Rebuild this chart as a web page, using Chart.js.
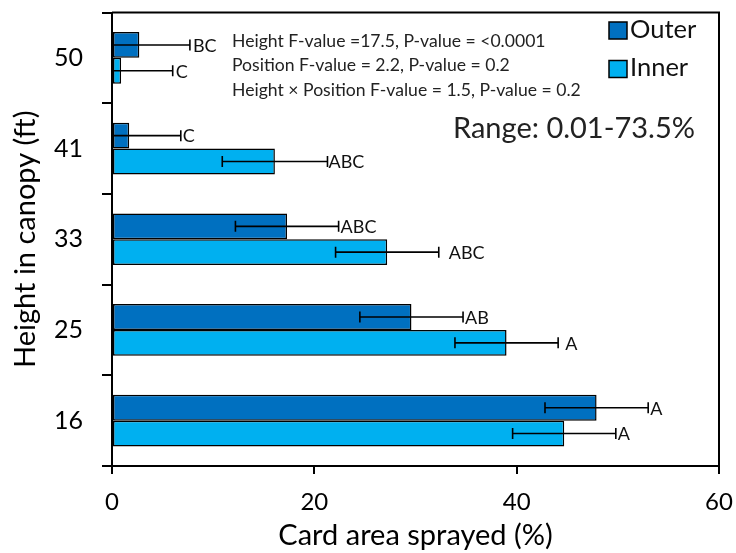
<!DOCTYPE html>
<html><head><meta charset="utf-8">
<script src="https://cdn.jsdelivr.net/npm/chart.js@4/dist/chart.umd.min.js"></script>
<style>html,body{margin:0;padding:0;background:#fff}#wrap{width:736px;height:553px}</style>
</head><body><div id="wrap"><canvas id="c" width="736" height="553"></canvas></div>
<script>
// ---- data ----
const heights = ['50', '41', '33', '25', '16'];
const seriesNames = ['Outer', 'Inner'];
const outerMean = [2.7, 1.7, 17.3, 29.6, 47.9];
const outerErr  = [5.0, 5.1, 5.1, 5.1, 5.1];
const innerMean = [0.9, 16.1, 27.2, 39.0, 44.7];
const innerErr  = [5.1, 5.2, 5.1, 5.1, 5.1];
const outerLetters = ['BC', 'C', 'ABC', 'AB', 'A'];
const innerLetters = ['C', 'ABC', 'ABC', 'A', 'A'];
const xTickValues = [0, 20, 40, 60];
const statsLines = [
  'Height F-value =17.5, P-value = <0.0001',
  'Position F-value = 2.2, P-value = 0.2',
  'Height \u00d7 Position F-value = 1.5, P-value = 0.2'
];
const rangeText = 'Range: 0.01-73.5%';
const xTitle = 'Card area sprayed (%)';
const yTitle = 'Height in canopy (ft)';

// ---- styles ----
const FONT = 'Lato, "Open Sans", sans-serif';
const colors = ['#0070C0', '#00B0F0'];
const errs = [outerErr, innerErr];
const letters = [outerLetters, innerLetters];
const letterGapOuter = [3, 2, 2, 2, 2];
const letterGapInner = [3, 1, 10, 7, 2];
const letterGaps = [letterGapOuter, letterGapInner];

const extras = {
  id: 'extras',
  afterDatasetsDraw(chart) {
    const ctx = chart.ctx;
    const xs = chart.scales.x;
    const ca = chart.chartArea;
    ctx.save();
    // error bars + letters
    chart.data.datasets.forEach((ds, di) => {
      const meta = chart.getDatasetMeta(di);
      meta.data.forEach((bar, i) => {
        const v = ds.data[i], e = errs[di][i];
        const lo = Math.max(0, v - e), hi = v + e;
        const xl = xs.getPixelForValue(lo), xh = xs.getPixelForValue(hi);
        const y = bar.y;
        ctx.strokeStyle = '#000';
        ctx.lineWidth = 1.6;
        ctx.beginPath();
        ctx.moveTo(xl, y); ctx.lineTo(xh, y);
        ctx.moveTo(xh, y - 5.5); ctx.lineTo(xh, y + 5.5);
        if (v - e > 0) { ctx.moveTo(xl, y - 5.5); ctx.lineTo(xl, y + 5.5); }
        ctx.stroke();
        ctx.fillStyle = '#111';
        ctx.font = '18px ' + FONT;
        ctx.textAlign = 'left';
        ctx.textBaseline = 'middle';
        ctx.fillText(letters[di][i], xh + letterGaps[di][i], y + 1);
      });
    });
    // frame top/right
    ctx.strokeStyle = '#000';
    ctx.lineWidth = 2;
    ctx.beginPath();
    ctx.moveTo(ca.left, ca.top); ctx.lineTo(ca.right, ca.top); ctx.lineTo(ca.right, ca.bottom);
    ctx.stroke();
    // stats text
    ctx.fillStyle = '#222';
    ctx.font = '17.6px ' + FONT;
    ctx.textAlign = 'left';
    ctx.textBaseline = 'middle';
    statsLines.forEach((t, k) => ctx.fillText(t, 232, 41 + k * 24.7));
    ctx.font = '29px ' + FONT;
    ctx.fillText(rangeText, 453, 129);
    // legend
    seriesNames.forEach((n, k) => {
      const yy = 30.5 + k * 38.5;
      ctx.fillStyle = colors[k];
      ctx.fillRect(609, yy - 8.5, 18, 17);
      ctx.strokeStyle = '#000';
      ctx.lineWidth = 1.5;
      ctx.strokeRect(609, yy - 8.5, 18, 17);
      ctx.fillStyle = '#111';
      ctx.font = '25.5px ' + FONT;
      ctx.fillText(n, 630, yy - 1);
    });
    ctx.restore();
  }
};

new Chart(document.getElementById('c'), {
  type: 'bar',
  data: {
    labels: heights,
    datasets: [
      { label: seriesNames[0], data: outerMean, backgroundColor: colors[0], borderColor: '#000', borderWidth: 1.5, borderSkipped: false },
      { label: seriesNames[1], data: innerMean, backgroundColor: colors[1], borderColor: '#000', borderWidth: 1.5, borderSkipped: false }
    ]
  },
  options: {
    indexAxis: 'y',
    responsive: false,
    animation: false,
    devicePixelRatio: 1,
    datasets: { bar: { categoryPercentage: 0.57, barPercentage: 1.0 } },
    layout: { padding: { top: 12.5, right: 17, left: 0, bottom: 0 } },
    plugins: { legend: { display: false }, tooltip: { enabled: false } },
    scales: {
      x: {
        type: 'linear', min: 0, max: 60,
        afterBuildTicks: s => { s.ticks = xTickValues.map(v => ({ value: v })); },
        ticks: { color: '#000', font: { family: FONT, size: 24 }, padding: 14, maxRotation: 0 },
        grid: { drawOnChartArea: false, drawTicks: true, tickLength: 8, color: '#000', lineWidth: 2 },
        border: { display: true, color: '#000', width: 2 },
        title: { display: true, text: xTitle, color: '#000', font: { family: FONT, size: 29 }, padding: { top: 0, bottom: 0 } },
        afterFit: s => { s.height = 87; s.paddingLeft = 0; s.paddingRight = 0; }
      },
      y: {
        type: 'category',
        ticks: { color: '#000', font: { family: FONT, size: 25 }, padding: 19 },
        grid: { offset: true, drawOnChartArea: false, drawTicks: true, tickLength: 10, color: '#000', lineWidth: 2 },
        border: { display: true, color: '#000', width: 2 },
        title: { display: true, text: yTitle, color: '#000', font: { family: FONT, size: 29 }, padding: { top: 8, bottom: 0 } },
        afterFit: s => { s.width = 112; s.paddingTop = 0; s.paddingBottom = 0; }
      }
    }
  },
  plugins: [extras]
});
</script>
</body></html>
